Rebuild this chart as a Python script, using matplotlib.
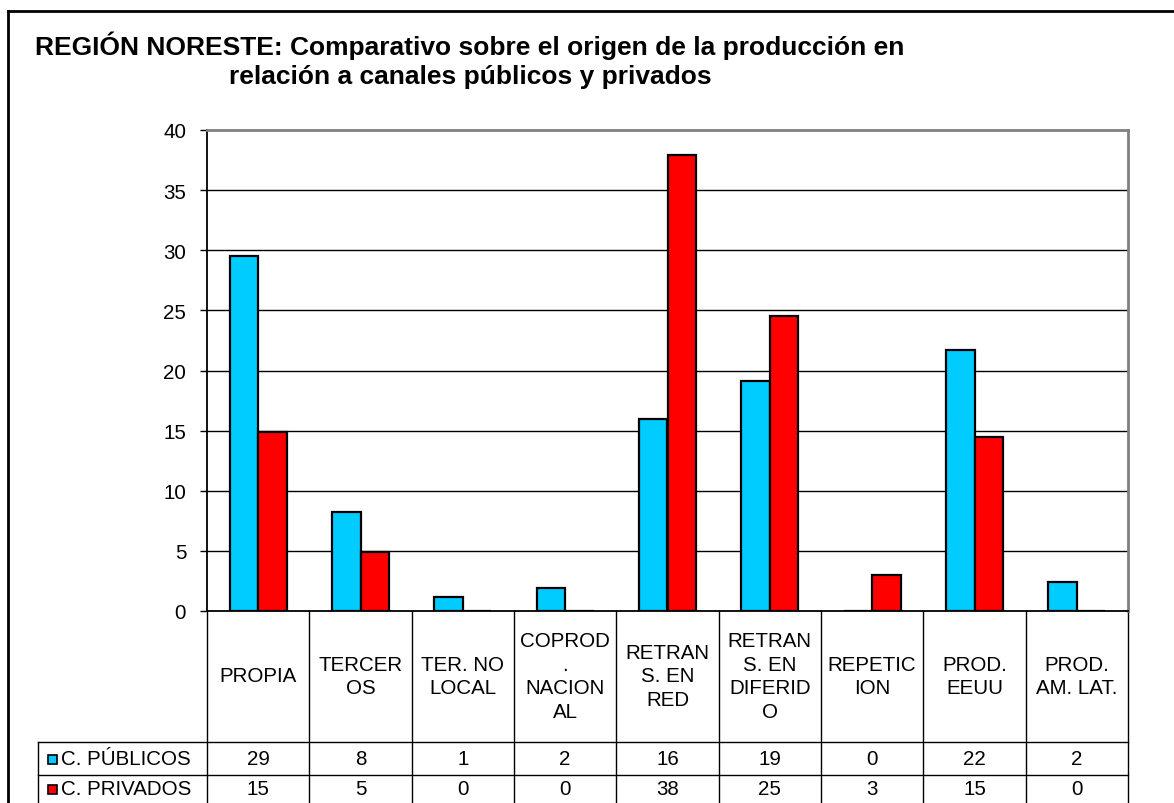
import matplotlib.pyplot as plt
import matplotlib.transforms as mtransforms
from matplotlib.lines import Line2D
from matplotlib.patches import Rectangle
import numpy as np

plt.rcParams['font.family'] = ['Liberation Sans', 'DejaVu Sans']

W, H = 1174, 804  # figure size in pixels

# data
categorias = ["PROPIA", "TERCER\nOS", "TER. NO\nLOCAL", "COPROD\n.\nNACION\nAL",
              "RETRAN\nS. EN\nRED", "RETRAN\nS. EN\nDIFERID\nO", "REPETIC\nION",
              "PROD.\nEEUU", "PROD.\nAM. LAT."]
publicos = [29.5, 8.2, 1.2, 1.9, 16.0, 19.1, 0.0, 21.7, 2.4]
privados = [14.9, 4.9, 0.0, 0.0, 37.9, 24.5, 3.0, 14.5, 0.0]
tabla_publicos = ["29", "8", "1", "2", "16", "19", "0", "22", "2"]
tabla_privados = ["15", "5", "0", "0", "38", "25", "3", "15", "0"]
series = ["C. PÚBLICOS", "C. PRIVADOS"]
colores = ["#00CCFF", "#FF0000"]

FS = 14.8  # table / tick text size


def fx(px):
    return px / W


def fy(py):
    return 1 - py / H


fig = plt.figure(figsize=(W / 100, H / 100), dpi=100)

# plot area in pixels: x 207..1128, y 131..612
ax = fig.add_axes([fx(207), fy(612), fx(1128 - 207), (612 - 131) / H])

x = np.arange(len(categorias))
bw = 0.28
ax.bar(x - bw / 2, publicos, bw, color=colores[0], edgecolor='black', linewidth=1.6, zorder=3)
ax.bar(x + bw / 2, privados, bw, color=colores[1], edgecolor='black', linewidth=1.6, zorder=3)

ax.set_xlim(-0.5, len(categorias) - 0.5)
ax.set_ylim(0, 40)
ax.set_yticks(range(0, 41, 5))
ax.set_xticks([])
for v in range(5, 40, 5):
    ax.axhline(v, color='black', linewidth=1.0, zorder=1)

ax.spines['top'].set_color('#808080')
ax.spines['right'].set_color('#808080')
ax.spines['top'].set_linewidth(2)
ax.spines['right'].set_linewidth(2)
ax.spines['left'].set_linewidth(1.3)
ax.spines['bottom'].set_linewidth(1.3)
ax.tick_params(axis='y', length=5, width=1, labelsize=FS, pad=10)

# title
fig.text(fx(470), fy(60), "REGIÓN NORESTE: Comparativo sobre el origen de la producción en\n"
         "relación a canales públicos y privados",
         ha='center', va='center', fontsize=19, fontweight='bold', linespacing=1.25)

# data table under the chart
trans = mtransforms.blended_transform_factory(ax.transData, fig.transFigure)
y_top, y_head, y_r1, y_bot = 612, 743, 776, 810
lw_t = 1.0
for b in np.arange(-0.5, len(categorias), 1.0):
    ax.add_line(Line2D([b, b], [fy(y_top), fy(y_bot)], transform=trans,
                       color='black', linewidth=lw_t, clip_on=False))
for yy in (y_head, y_r1):
    fig.add_artist(Line2D([fx(38), fx(1128)], [fy(yy), fy(yy)], color='black', linewidth=lw_t))
fig.add_artist(Line2D([fx(38), fx(38)], [fy(y_head), fy(y_bot)], color='black', linewidth=lw_t))

for i, cat in enumerate(categorias):
    ax.text(i, fy(677), cat, transform=trans, ha='center', va='center',
            fontsize=FS, linespacing=1.3)
    ax.text(i, fy((y_head + y_r1) / 2), tabla_publicos[i], transform=trans,
            ha='center', va='center', fontsize=FS)
    ax.text(i, fy(y_r1 + 14), tabla_privados[i], transform=trans,
            ha='center', va='center', fontsize=FS)

for k, (nombre, col) in enumerate(zip(series, colores)):
    yc = (y_head + y_r1) / 2 if k == 0 else y_r1 + 14
    fig.add_artist(Rectangle((fx(48), fy(yc + 5)), fx(9), 9 / H, facecolor=col,
                             edgecolor='black', linewidth=1.2))
    fig.text(fx(61), fy(yc), nombre, ha='left', va='center', fontsize=FS)

# outer frame
fig.add_artist(Line2D([fx(8), fx(W)], [fy(12), fy(12)], color='black', linewidth=2))
fig.add_artist(Line2D([fx(8), fx(8)], [fy(12), fy(H)], color='black', linewidth=2))

fig.savefig("out.png", dpi=100)
